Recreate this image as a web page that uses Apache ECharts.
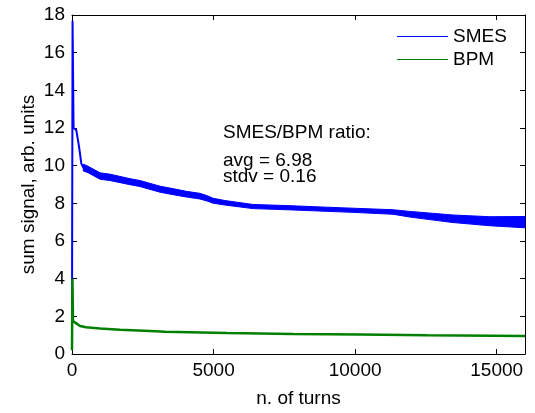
<!DOCTYPE html>
<html>
<head>
<meta charset="utf-8">
<script src="https://cdn.jsdelivr.net/npm/echarts@6/dist/echarts.min.js"></script>
<style>html,body{margin:0;padding:0;background:#fff}#c{width:535px;height:413px}</style>
</head>
<body>
<div id="c"></div>
<script>
// ---- data ----
const smesTurns  = [0, 20, 55, 150, 250, 330, 400, 565, 990, 1340, 2050, 2400, 3110, 3640, 4030, 4520, 4800, 4980, 5400, 6390, 7590, 8760, 9930, 11340, 11940, 13460, 14760, 16000];
const smesValues = [1.8, 17.7, 12.0, 11.9, 11.0, 10.1, 9.9, 9.8, 9.45, 9.38, 9.15, 9.05, 8.75, 8.6, 8.49, 8.38, 8.25, 8.14, 8.03, 7.83, 7.77, 7.70, 7.63, 7.54, 7.42, 7.18, 7.05, 7.0];
// envelope of the noisy SMES band
const bandTurns = [400, 565, 990, 1340, 2050, 2400, 3110, 3640, 4030, 4520, 4800, 4980, 5400, 6390, 7590, 8760, 9930, 11340, 11940, 13460, 14760, 16000];
const smesUpper = [10.08, 9.97, 9.62, 9.55, 9.31, 9.21, 8.91, 8.76, 8.64, 8.53, 8.39, 8.27, 8.15, 7.94, 7.88, 7.81, 7.74, 7.66, 7.57, 7.38, 7.29, 7.30];
const smesLower = [9.72, 9.63, 9.28, 9.21, 8.99, 8.89, 8.59, 8.44, 8.34, 8.23, 8.11, 8.01, 7.91, 7.72, 7.66, 7.59, 7.52, 7.42, 7.27, 6.98, 6.81, 6.70];
const bpmTurns  = [0, 15, 35, 140, 283, 494, 989, 1695, 2755, 3285, 5475, 7806, 10172, 12539, 16000];
const bpmValues = [0.2, 4.0, 1.75, 1.64, 1.49, 1.42, 1.35, 1.29, 1.22, 1.18, 1.11, 1.06, 1.03, 0.99, 0.96];
const xTicks = [0, 5000, 10000, 15000];
const yTicks = [0, 2, 4, 6, 8, 10, 12, 14, 16, 18];
const seriesNames = ['SMES', 'BPM'];
const annotation = ['SMES/BPM ratio:', 'avg = 6.98', 'stdv = 0.16'];

const FONT = 'Liberation Sans, Arial, Helvetica, sans-serif';
const FS = 19;
const zip = (a, b) => a.map((v, i) => [v, b[i]]);
const plain = v => String(v);

const lineCommon = { show: true, onZero: false, lineStyle: { color: '#000', width: 1 } };
const tickStyle = { color: '#000', width: 1 };

const chart = echarts.init(document.getElementById('c'), null, { renderer: 'canvas' });
chart.setOption({
  animation: false,
  backgroundColor: '#fff',
  grid: { left: 72, top: 15, right: 10, bottom: 48, containLabel: false },
  xAxis: [
    {
      type: 'value', min: 0, max: 16000, interval: 5000,
      axisLine: lineCommon, splitLine: { show: false },
      name: 'n. of turns', nameLocation: 'middle', nameGap: 35, nameMoveOverlap: false,
      nameTextStyle: { fontFamily: FONT, fontSize: FS, color: '#000' },
      axisLabel: { fontFamily: FONT, fontSize: FS, color: '#000', margin: 7, formatter: plain,
                   customValues: xTicks },
      axisTick: { show: true, inside: true, length: 5, lineStyle: tickStyle, customValues: xTicks }
    },
    {
      type: 'value', min: 0, max: 16000, interval: 5000, position: 'top',
      axisLine: lineCommon, splitLine: { show: false },
      axisLabel: { show: false },
      axisTick: { show: true, inside: true, length: 5, lineStyle: tickStyle, customValues: xTicks }
    }
  ],
  yAxis: [
    {
      type: 'value', min: 0, max: 18, interval: 2,
      axisLine: lineCommon, splitLine: { show: false },
      name: 'sum signal, arb. units', nameLocation: 'middle', nameGap: 34, nameMoveOverlap: false,
      nameTextStyle: { fontFamily: FONT, fontSize: FS, color: '#000' },
      axisLabel: { fontFamily: FONT, fontSize: FS, color: '#000', margin: 7, formatter: plain },
      axisTick: { show: true, inside: true, length: 5, lineStyle: tickStyle }
    },
    {
      type: 'value', min: 0, max: 18, interval: 2, position: 'right',
      axisLine: lineCommon, splitLine: { show: false },
      axisLabel: { show: false },
      axisTick: { show: true, inside: true, length: 5, lineStyle: tickStyle }
    }
  ],
  legend: {
    orient: 'vertical', left: 397, top: 27, padding: 0,
    itemWidth: 51, itemHeight: 14, itemGap: 4,
    icon: 'path://M0,7 L51,7 L51,8 L0,8 Z',
    textStyle: { fontFamily: FONT, fontSize: FS, color: '#000' },
    data: [
      { name: seriesNames[0], itemStyle: { color: '#0000ff' } },
      { name: seriesNames[1], itemStyle: { color: '#008000' } }
    ]
  },
  graphic: annotation.map((t, i) => ({
    type: 'text', left: 223, top: [123, 151, 167][i], z: 100,
    style: { text: t, fontFamily: FONT, fontSize: FS, fill: '#000' }
  })),
  series: [
    {
      name: seriesNames[0], type: 'line', data: zip(smesTurns, smesValues),
      symbol: 'none', lineStyle: { color: '#0000ff', width: 2 }, itemStyle: { color: '#0000ff' },
      z: 3
    },
    {
      name: 'SMES band', type: 'custom', coordinateSystem: 'cartesian2d',
      data: [[bandTurns[0], smesUpper[0]]], z: 3, silent: true,
      renderItem: function (params, api) {
        const pts = [];
        for (let i = 0; i < bandTurns.length; i++) pts.push(api.coord([bandTurns[i], smesUpper[i]]));
        for (let i = bandTurns.length - 1; i >= 0; i--) pts.push(api.coord([bandTurns[i], smesLower[i]]));
        return { type: 'polygon', shape: { points: pts }, style: { fill: '#0000ff', stroke: '#0000ff', lineWidth: 1 } };
      }
    },
    {
      name: seriesNames[1], type: 'line', data: zip(bpmTurns, bpmValues),
      symbol: 'none', lineStyle: { color: '#008000', width: 2.5 }, itemStyle: { color: '#008000' },
      z: 4
    }
  ]
});
</script>
</body>
</html>
